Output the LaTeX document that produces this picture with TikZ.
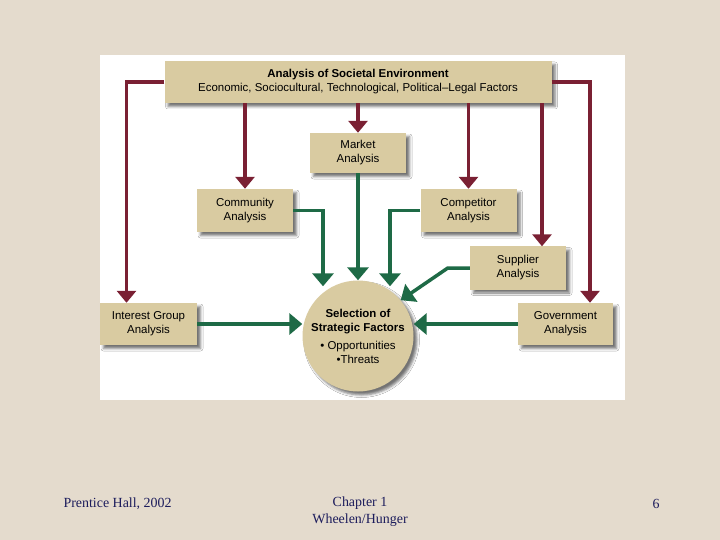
\documentclass[tikz,border=0pt]{standalone}
\usepackage{fontspec}
\setmainfont{Liberation Serif}
\newfontfamily\diagfont{Liberation Sans}
\usetikzlibrary{arrows.meta,shadows.blur}
\definecolor{SlideBeige}{HTML}{E4DBCD}
\definecolor{BoxTan}{HTML}{D9CBA1}
\definecolor{EnvRed}{HTML}{7A2033}
\definecolor{FactGreen}{HTML}{1E6A46}
\definecolor{FootNavy}{HTML}{1C1C5C}

\begin{document}
\begin{tikzpicture}[x=1bp,y=-1bp,
  boxnode/.style={fill=BoxTan,draw=none,align=center,inner sep=0pt,
    minimum width=96bp,minimum height=42bp,
    font=\diagfont\fontsize{11.5}{14}\selectfont,
    blur shadow={shadow xshift=3.5bp,shadow yshift=-3.5bp,shadow blur radius=2.5bp,shadow opacity=55}},
  redarrow/.style={draw=EnvRed,line width=3.5bp,-{Triangle[width=19bp,length=12bp]}},
  greenarrow/.style={draw=FactGreen,line width=3.5bp,-{Triangle[width=21bp,length=13bp]}},
  footnote/.style={text=FootNavy,font=\fontsize{14}{17}\selectfont}]
  \useasboundingbox (0,0) rectangle (720,540);
  \fill[SlideBeige] (0,0) rectangle (720,540);
  \fill[white] (100,55) rectangle (625,400);
  % boxes
  \node[boxnode,minimum width=387bp] (soc) at (358,82)
    {\textbf{Analysis of Societal Environment}\\Economic, Sociocultural, Technological, Political–Legal Factors};
  \node[boxnode,minimum height=40bp] (mkt) at (358,153) {Market\\Analysis};
  \node[boxnode,minimum height=43bp] (comm) at (245,210.5) {Community\\Analysis};
  \node[boxnode,minimum height=43bp] (comp) at (468.5,210.5) {Competitor\\Analysis};
  \node[boxnode,minimum height=43bp] (supp) at (518,268) {Supplier\\Analysis};
  \node[boxnode,minimum width=97bp] (intr) at (148.5,324) {Interest Group\\Analysis};
  \node[boxnode,minimum width=95bp] (gov) at (565.5,324) {Government\\Analysis};
  \node[boxnode,circle,minimum size=111bp] (sel) at (358,336)
    {\textbf{Selection of}\\\textbf{Strategic Factors}\\[4bp]\textbullet\ Opportunities\\\textbullet Threats};
  % societal environment feeds
  \coordinate (intrin) at ([xshift=-22bp]intr.north);
  \coordinate (suppin) at ([xshift=24bp]supp.north);
  \coordinate (govin) at ([xshift=24.5bp]gov.north);
  \draw[redarrow] (soc.west) -| (intrin);
  \draw[redarrow] (soc.south -| comm.north) -- (comm.north);
  \draw[redarrow] (soc.south -| mkt.north) -- (mkt.north);
  \draw[redarrow] (soc.south -| comp.north) -- (comp.north);
  \draw[redarrow] (soc.south -| suppin) -- (suppin);
  \draw[redarrow] (soc.east) -| (govin);
  % into strategic factors
  \coordinate (tipl) at ([xshift=-35bp,yshift=-6bp]sel.north);
  \coordinate (tipr) at ([xshift=32bp,yshift=-6bp]sel.north);
  \coordinate (suppbend) at ([xshift=-22bp]supp.west);
  \draw[greenarrow] (comm.east) -| (tipl);
  \draw[greenarrow] (mkt.south) -- (sel.north);
  \draw[greenarrow] (comp.west) -| (tipr);
  \draw[greenarrow] (supp.west) -- (suppbend) -- (sel.40);
  \draw[greenarrow] (intr.east) -- (intr.east -| sel.west);
  \draw[greenarrow] (gov.west) -- (gov.west -| sel.east);
  % footer
  \node[footnote,anchor=west] (pub) at (60,504) {Prentice Hall, 2002};
  \node[footnote,align=center] (chap) at (360,512) {Chapter 1\\Wheelen/Hunger};
  \node[footnote] (pg) at (656,504) {6};
\end{tikzpicture}
\end{document}
